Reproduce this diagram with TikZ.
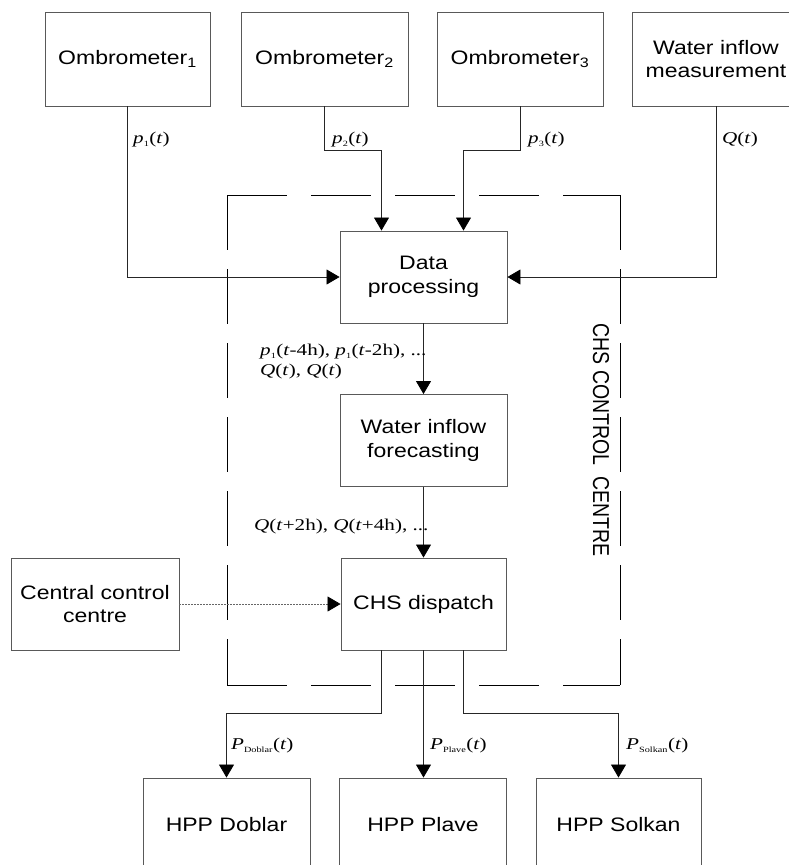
\documentclass[tikz,border=0pt]{standalone}
\usepackage{fontspec}
\setmainfont{Liberation Sans}[FakeStretch=1.18]
\newfontfamily\lblfont{Liberation Serif}[FakeStretch=1.28]
\newfontfamily\plainsans{Liberation Sans}
\usetikzlibrary{arrows.meta,calc}
\tikzset{
  blk/.style={draw=black!65, line width=0.9pt, minimum height=92pt, minimum width=167pt,
    inner sep=0pt, align=center, font=\fontsize{19.5}{23.5}\selectfont},
  con/.style={draw=black!85, line width=0.8pt, -{Triangle[length=13pt,width=15pt,color=black]}},
  lbl/.style={font=\lblfont\fontsize{16.5}{20}\selectfont, inner sep=0pt, anchor=west, align=left},
  region/.style={draw=black, line width=1pt, dash pattern=on 60pt off 24pt},
  regionv/.style={draw=black, line width=1pt, dash pattern=on 55pt off 19pt},
}
\newcommand{\ssub}[1]{\textsubscript{\fontsize{8}{8}\selectfont #1}}
\begin{document}
\begin{tikzpicture}[x=1pt,y=-1pt]
\clip (0,0) rectangle (789,865);
\fill[white] (0,0) rectangle (789,865);
% top boxes
\node[blk, minimum width=165pt, minimum height=94pt] (om1) at (127.5,59) {Ombrometer\textsubscript{1}};
\node[blk, minimum height=94pt] (om2) at (324.5,59) {Ombrometer\textsubscript{2}};
\node[blk, minimum width=166pt, minimum height=94pt] (om3) at (520,59) {Ombrometer\textsubscript{3}};
\node[blk, minimum width=168pt, minimum height=94pt] (wim) at (716,59) {Water inflow\\measurement};
% centre boxes
\node[blk] (dp) at (423.5,277) {Data\\processing};
\node[blk] (wif) at (423.5,440.5) {Water inflow\\forecasting};
\node[blk, minimum width=165pt] (chs) at (423.5,604) {CHS dispatch};
\node[blk, minimum width=168pt] (ccc) at (95,604) {Central control\\centre};
% bottom boxes
\node[blk, minimum height=94pt] (hd) at (226.5,825) {HPP Doblar};
\node[blk, minimum height=94pt] (hp) at (423,825) {HPP Plave};
\node[blk, minimum width=165pt, minimum height=94pt] (hs) at (618.5,825) {HPP Solkan};
% control centre region
\coordinate (rtl) at (227,195);
\coordinate (rtr) at (620,195);
\coordinate (rbl) at (227,685);
\coordinate (rbr) at (620,685);
\draw[region] (rtl) -- (rtr);
\draw[regionv] (rtr) -- (rbr);
\draw[region] (rbl) -- (rbr);
\draw[regionv] (rtl) -- (rbl);
\node (ctl) at (601,440) {\scalebox{1.18}[1]{\rotatebox{-90}{\plainsans\fontsize{19.5}{23}\selectfont CHS CONTROL\ \ CENTRE}}};
% connectors
\draw[con] (om1.south) |- (dp.west);
\draw[con] (om2.south) -- ++(0,44) -| ($(dp.north)+(-42,0)$);
\draw[con] (om3.south) -- ++(0,44) -| ($(dp.north)+(40,0)$);
\draw[con] (wim.south) |- (dp.east);
\draw[con] (dp) -- (wif);
\draw[con] (wif) -- (chs);
\draw[con, draw=black!60, dash pattern=on 1.5pt off 1.5pt] (ccc) -- (chs);
\draw[con] ($(chs.south)+(-42,0)$) -- ++(0,63) -| (hd.north);
\draw[con] (chs.south) -- (chs.south |- hp.north);
\draw[con] ($(chs.south)+(40,0)$) -- ++(0,63) -| (hs.north);
% labels
\node[lbl] (l1) at (133,140) {\textit{p}\ssub{1}(\textit{t})};
\node[lbl] (l2) at (332,140) {\textit{p}\ssub{2}(\textit{t})};
\node[lbl] (l3) at (528,140) {\textit{p}\ssub{3}(\textit{t})};
\node[lbl] (l4) at (722,140) {\textit{Q}(\textit{t})};
\node[lbl] (l5) at (260,362) {\textit{p}\ssub{1}(\textit{t}-4h), \textit{p}\ssub{1}(\textit{t}-2h), ...\\\textit{Q}(\textit{t}), \textit{Q}(\textit{t})};
\node[lbl] (l6) at (254,527) {\textit{Q}(\textit{t}+2h), \textit{Q}(\textit{t}+4h), ...};
\node[lbl] (l7) at (231,746) {\textit{P}\ssub{Doblar}(\textit{t})};
\node[lbl] (l8) at (430,746) {\textit{P}\ssub{Plave}(\textit{t})};
\node[lbl] (l9) at (626,746) {\textit{P}\ssub{Solkan}(\textit{t})};
\end{tikzpicture}
\end{document}
